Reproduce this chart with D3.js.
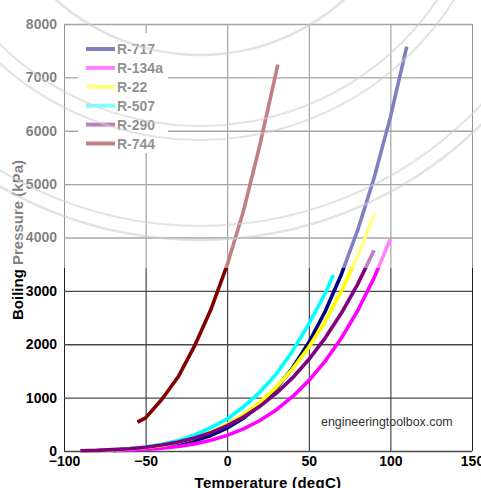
<!DOCTYPE html>
<html>
<head>
<meta charset="utf-8">
<script src="https://cdn.jsdelivr.net/npm/d3@7"></script>
<style>
  body { margin: 0; background: #fff; }
  svg { display: block; font-family: "Liberation Sans", Arial, sans-serif; }
</style>
</head>
<body>
<div id="chart"></div>
<script>
// boiling pressure [degC, kPa]
const r717 = [[-70, 10.9], [-60, 21.9], [-50, 40.8], [-40, 71.7], [-30, 119.5], [-20, 190.2], [-10, 290.8],
  [0, 429.4], [10, 615], [20, 857], [30, 1167], [40, 1555], [50, 2033], [60, 2614], [70, 3312],
  [80, 4141], [90, 5116], [100, 6255], [110, 7575]];
const r134a = [[-70, 8], [-60, 15.9], [-50, 29.5], [-40, 51.2], [-30, 84.4], [-20, 132.7], [-10, 200.7],
  [0, 292.8], [10, 414.6], [20, 571.7], [30, 770], [40, 1017], [50, 1318], [60, 1682], [70, 2117],
  [80, 2632], [90, 3244], [100, 3972]];
const r22 = [[-90, 4.8], [-80, 10.3], [-70, 20.5], [-60, 37.5], [-50, 64.5], [-40, 105], [-30, 164],
  [-20, 245], [-10, 355], [0, 498], [10, 681], [20, 910], [30, 1192], [40, 1534], [50, 1943],
  [60, 2427], [70, 2995], [80, 3656], [90, 4424]];
const r507 = [[-70, 23], [-60, 43], [-50, 75], [-40, 125], [-30, 198], [-20, 300], [-10, 437],
  [0, 600], [10, 830], [20, 1100], [30, 1440], [40, 1870], [50, 2380], [60, 2950], [65, 3300]];
const r290 = [[-90, 6], [-80, 12], [-70, 25], [-60, 43], [-50, 70], [-40, 111], [-30, 168],
  [-20, 244], [-10, 345], [0, 474], [10, 637], [20, 836], [30, 1079], [40, 1369], [50, 1713],
  [60, 2116], [70, 2584], [80, 3127], [90, 3760]];
const r744 = [[-55, 540], [-50, 620], [-40, 970], [-30, 1390], [-20, 1969], [-10, 2649],
  [0, 3485], [10, 4502], [20, 5729], [30, 7100], [31, 7240]];

const seriesNames = ['R-717', 'R-134a', 'R-22', 'R-507', 'R-290', 'R-744'];
const seriesData = [r717, r134a, r22, r507, r290, r744];
const seriesColors = ['#000080', '#ff00ff', '#ffff00', '#00ffff', '#800080', '#800000'];

const xTicks = [-100, -50, 0, 50, 100, 150];
const yTicks = [0, 1000, 2000, 3000, 4000, 5000, 6000, 7000, 8000];

const W = 481, H = 488;
const margin = {top: 24, right: 9, bottom: 37, left: 64};
const width = W - margin.left - margin.right;
const height = H - margin.top - margin.bottom;

const svg = d3.select('#chart').append('svg')
  .attr('width', W)
  .attr('height', H);

const g = svg.append('g')
  .attr('transform', 'translate(' + margin.left + ',' + margin.top + ')');

const xScale = d3.scaleLinear().domain([-100, 150]).range([0, width]);
const yScale = d3.scaleLinear().domain([0, 8000]).range([height, 0]);

// grid + axes
const xAxis = g.append('g')
  .attr('transform', 'translate(0,' + height + ')')
  .call(d3.axisBottom(xScale).tickValues(xTicks).tickSize(-height).tickPadding(5).tickFormat(d3.format('d')));
xAxis.select('.domain').remove();
xAxis.selectAll('line').attr('stroke', '#222').attr('stroke-width', 1);
xAxis.selectAll('text')
  .attr('font-size', 14).attr('font-weight', 'bold').attr('fill', '#000');

const yAxis = g.append('g')
  .call(d3.axisLeft(yScale).tickValues(yTicks).tickSize(-width).tickPadding(7).tickFormat(d3.format('d')));
yAxis.select('.domain').remove();
yAxis.selectAll('line').attr('stroke', '#4a4a4a').attr('stroke-width', 1.4);
yAxis.selectAll('text')
  .attr('font-size', 14).attr('font-weight', 'bold').attr('fill', '#000');

// curves
const line = d3.line()
  .x(d => xScale(d[0]))
  .y(d => yScale(d[1]));

g.selectAll('.curve')
  .data(seriesData)
  .enter()
  .append('path')
  .attr('class', 'curve')
  .attr('d', line)
  .attr('fill', 'none')
  .attr('stroke', (d, i) => seriesColors[i])
  .attr('stroke-width', 3.6)
  .attr('stroke-linejoin', 'round');

// legend
const legend = g.append('g').attr('transform', 'translate(14,9)');
legend.append('rect')
  .attr('width', 90).attr('height', 120)
  .attr('fill', '#fff');
const items = legend.selectAll('.item')
  .data(seriesNames)
  .enter()
  .append('g')
  .attr('transform', (d, i) => 'translate(0,' + (16 + i * 18.9) + ')');
items.append('line')
  .attr('x1', 8).attr('x2', 37)
  .attr('stroke', (d, i) => seriesColors[i])
  .attr('stroke-width', 4);
items.append('text')
  .attr('x', 39).attr('y', 5)
  .attr('font-size', 14).attr('font-weight', 'bold').attr('fill', '#222')
  .text(d => d);

g.append('text')
  .attr('x', xScale(57.5)).attr('y', yScale(470))
  .attr('font-size', 12.4).attr('fill', '#333')
  .text('engineeringtoolbox.com');

// axis titles
svg.append('text')
  .attr('x', 268).attr('y', 488)
  .attr('text-anchor', 'middle')
  .attr('font-size', 15).attr('font-weight', 'bold')
  .attr('letter-spacing', 0.3)
  .text('Temperature (degC)');

svg.append('text')
  .attr('transform', 'translate(23,240) rotate(-90)')
  .attr('text-anchor', 'middle')
  .attr('font-size', 15).attr('font-weight', 'bold')
  .text('Boiling Pressure (kPa)');

// faded watermark band over the upper part
svg.append('rect')
  .attr('x', 0).attr('y', 0)
  .attr('width', W).attr('height', 268)
  .attr('fill', '#fff').attr('opacity', 0.5);

svg.append('clipPath').attr('id', 'wm')
  .append('rect').attr('width', W).attr('height', 268);
const wm = svg.append('g').attr('clip-path', 'url(#wm)')
  .attr('fill', 'none').attr('stroke', '#cfcfcf').attr('opacity', 0.6);
[[400, 2.5], [386, 2], [300, 2], [286, 2], [215, 2.5]].forEach(r => {
  wm.append('circle')
    .attr('cx', 200).attr('cy', -160)
    .attr('r', r[0])
    .attr('stroke-width', r[1]);
});
</script>
</body>
</html>
